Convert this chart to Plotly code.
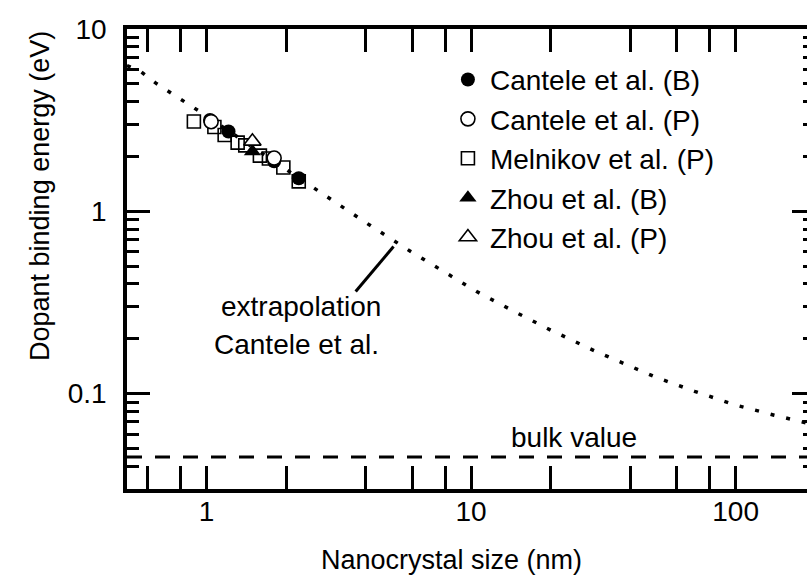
import plotly.graph_objects as go
import numpy as np

# Binding energy of dopants in Si nanocrystals (eV) vs nanocrystal size (nm)
cantele_b_size = [1.03, 1.21, 1.80, 2.23]
cantele_b_energy = [3.17, 2.74, 1.88, 1.52]

cantele_p_size = [1.04, 1.80]
cantele_p_energy = [3.10, 1.96]

melnikov_p_size = [0.895, 1.07, 1.17, 1.31, 1.40, 1.59, 1.72, 1.95, 2.23]
melnikov_p_energy = [3.11, 2.90, 2.62, 2.38, 2.30, 2.02, 1.95, 1.74, 1.46]

zhou_b_size = [1.49]
zhou_b_energy = [2.13]

zhou_p_size = [1.49]
zhou_p_energy = [2.42]

# Extrapolated curve (Cantele et al.)
extrap_size = [0.5, 0.563, 0.641, 0.744, 0.87, 1.0, 1.5, 2.0, 2.62, 4.0, 5.91,
               8.0, 10.5, 15, 20, 30, 50, 70, 100, 140, 200]
extrap_energy = [6.3, 5.85, 5.06, 4.41, 3.79, 3.33, 2.24, 1.69, 1.30, 0.867, 0.602,
                 0.459, 0.363, 0.276, 0.223, 0.169, 0.123, 0.103, 0.0866, 0.0762, 0.0673]

bulk_value = 0.045

x_major = [1, 10, 100]
x_major_text = ["1", "10", "100"]
y_major = [0.1, 1, 10]
y_major_text = ["0.1", "1", "10"]

FONT = "Liberation Sans, Arial, sans-serif"
FS = 28        # tick labels and in-plot notes
FS_TITLE = 27  # axis titles
FS_LEG = 28    # legend

x_minor = [m * 10.0 ** k for k in (-1, 0, 1, 2) for m in (2, 4, 6, 8)]
y_minor = [m * 10.0 ** k for k in (-2, -1, 0) for m in range(2, 10)]

# plot area: left 127, right 807 (page edge), top 29, bottom 489
W, H = 807, 585
ML, MR, MT, MB = 127, 0, 29, 96
PW, PH = W - ML - MR, H - MT - MB
decade_px = 264.5
xmin_log = np.log10(0.5)
xmax_log = xmin_log + PW / decade_px
ymin_log, ymax_log = np.log10(0.03), 1.0

fig = go.Figure()

fig.add_trace(go.Scatter(
    x=extrap_size, y=extrap_energy, mode="lines",
    line=dict(color="black", width=3.5, dash="4px,12px"),
    showlegend=False, hoverinfo="skip"))

fig.add_trace(go.Scatter(
    x=[0.5, 200], y=[bulk_value, bulk_value], mode="lines",
    line=dict(color="black", width=3, dash="15px,13px"),
    showlegend=False, hoverinfo="skip"))

msize = 14
open_line = dict(color="black", width=1.6)

fig.add_trace(go.Scatter(
    x=melnikov_p_size, y=melnikov_p_energy, mode="markers", name="Melnikov et al. (P)",
    marker=dict(symbol="square-open", size=13, color="black", line=open_line),
    legendrank=3, legendgroup="g3"))
fig.add_trace(go.Scatter(
    x=cantele_b_size, y=cantele_b_energy, mode="markers", name="Cantele et al. (B)",
    marker=dict(symbol="circle", size=msize, color="black", line=dict(width=0)),
    legendrank=1, legendgroup="g1"))
fig.add_trace(go.Scatter(
    x=cantele_p_size, y=cantele_p_energy, mode="markers", name="Cantele et al. (P)",
    marker=dict(symbol="circle", size=msize, color="white", line=open_line),
    legendrank=2, legendgroup="g2"))
fig.add_trace(go.Scatter(
    x=zhou_b_size, y=zhou_b_energy, mode="markers", name="Zhou et al. (B)",
    marker=dict(symbol="triangle-up", size=15, color="black", line=dict(width=0)),
    legendrank=4, legendgroup="g4"))
fig.add_trace(go.Scatter(
    x=zhou_p_size, y=zhou_p_energy, mode="markers", name="Zhou et al. (P)",
    marker=dict(symbol="triangle-up", size=15, color="white", line=open_line),
    legendrank=5, legendgroup="g5"))

# invisible trace carrying the right-hand tick axis
fig.add_trace(go.Scatter(x=[1], y=[1], yaxis="y2", mode="markers",
                         marker=dict(opacity=0), showlegend=False, hoverinfo="skip"))

axis_common = dict(
    type="log", showgrid=False, zeroline=False,
    ticks="inside", ticklen=23, tickwidth=3, tickcolor="black",
    showline=True, linewidth=3.5, linecolor="black",
    tickfont=dict(family=FONT, size=FS, color="black"),
)

fig.update_layout(
    width=W, height=H,
    margin=dict(l=ML, r=MR, t=MT, b=MB),
    paper_bgcolor="white", plot_bgcolor="white",
    font=dict(family=FONT, size=FS, color="black"),
    xaxis=dict(**axis_common, range=[xmin_log, xmax_log], mirror="allticks",
               tickmode="array", tickvals=x_major, ticktext=x_major_text,
               ticklabelstandoff=-5,
               minor=dict(tickmode="array", tickvals=x_minor, ticks="inside",
                          ticklen=12, tickwidth=3, tickcolor="black")),
    yaxis=dict(**axis_common, range=[ymin_log, ymax_log], mirror=False,
               tickmode="array", tickvals=y_major, ticktext=y_major_text,
               ticklabelstandoff=11,
               minor=dict(tickmode="array", tickvals=y_minor, ticks="inside",
                          ticklen=12, tickwidth=3, tickcolor="black")),
    yaxis2=dict(type="log", overlaying="y", side="right", anchor="x",
                range=[ymin_log, ymax_log], showgrid=False, zeroline=False,
                showline=False, showticklabels=False,
                ticks="inside", ticklen=15, tickwidth=3, tickcolor="black",
                tickmode="array", tickvals=y_major,
                minor=dict(tickmode="array", tickvals=y_minor, ticks="inside",
                           ticklen=4, tickwidth=3, tickcolor="black")),
    legend=dict(x=0.469, y=0.944, xanchor="left", yanchor="top",
                bgcolor="rgba(0,0,0,0)", font=dict(family=FONT, size=FS_LEG),
                itemsizing="trace", itemwidth=34, tracegroupgap=0),
    showlegend=True,
)

# leader line for the extrapolation label
fig.add_shape(type="line", xref="x", yref="y",
              x0=3.66, y0=0.363, x1=5.09, y1=0.641,
              line=dict(color="black", width=3))

fig.add_annotation(x=np.log10(2.27), y=np.log10(0.301), xref="x", yref="y",
                   text="extrapolation", showarrow=False,
                   xanchor="center", yanchor="middle",
                   font=dict(family=FONT, size=FS))
fig.add_annotation(x=np.log10(2.19), y=np.log10(0.1864), xref="x", yref="y",
                   text="Cantele et al.", showarrow=False,
                   xanchor="center", yanchor="middle",
                   font=dict(family=FONT, size=FS))
fig.add_annotation(x=np.log10(24.4), y=np.log10(0.0577), xref="x", yref="y",
                   text="bulk value", showarrow=False,
                   xanchor="center", yanchor="middle",
                   font=dict(family=FONT, size=FS))

# axis titles
fig.add_annotation(x=(451 - ML) / PW, y=(489 - 560) / PH,
                   xref="paper", yref="paper", text="Nanocrystal size (nm)",
                   xanchor="center", yanchor="middle",
                   showarrow=False, font=dict(family=FONT, size=FS_TITLE))
fig.add_annotation(x=(40 - ML) / PW, y=(489 - 196) / PH,
                   xref="paper", yref="paper", text="Dopant binding energy (eV)",
                   xanchor="center", yanchor="middle",
                   textangle=-90, showarrow=False, font=dict(family=FONT, size=FS_TITLE))

fig.write_html("out.html")
